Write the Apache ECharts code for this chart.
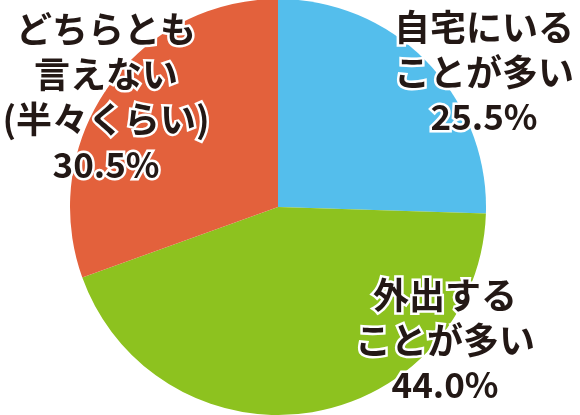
<!DOCTYPE html>
<html>
<head>
<meta charset="utf-8">
<script src="https://cdn.jsdelivr.net/npm/echarts@6/dist/echarts.min.js"></script>
<style>html,body{margin:0;padding:0;background:#fff;}#c{width:580px;height:415px;}</style>
</head>
<body>
<div id="c"></div>
<script>
var categories = ['自宅にいる\nことが多い', '外出する\nことが多い', 'どちらとも\n言えない\n(半々くらい)'];
var values = [25.5, 44.0, 30.5];
var colors = ['#54BEEC', '#8DC21F', '#E3613C'];
var labelPos = [[484, 72], [445, 340], [106, 97]];

var chart = echarts.init(document.getElementById('c'));
chart.setOption({
  animation: false,
  series: [{
    type: 'pie',
    center: [278, 207],
    radius: 208,
    startAngle: 90,
    clockwise: true,
    data: categories.map(function (c, i) {
      return { name: c, value: values[i], itemStyle: { color: colors[i] } };
    }),
    itemStyle: { borderWidth: 0 },
    label: {
      show: true,
      position: 'inside',
      formatter: function (p) {
        return p.name.split('\n').map(function (s) { return '{a|' + s + '}'; }).join('\n') +
          '\n{b|' + p.value.toFixed(1) + '%}';
      },
      color: '#231815',
      textBorderColor: '#ffffff',
      textBorderWidth: 5,
      align: 'center',
      rich: {
        a: {
          fontFamily: '"Noto Sans CJK JP", sans-serif',
          fontSize: 36, fontWeight: 'bold', lineHeight: 45,
          color: '#231815', textBorderColor: '#ffffff', textBorderWidth: 5
        },
        b: {
          fontFamily: '"Noto Sans CJK JP", sans-serif',
          fontSize: 35, fontWeight: 'bold', lineHeight: 45,
          color: '#231815', textBorderColor: '#ffffff', textBorderWidth: 5
        }
      }
    },
    labelLine: { show: false },
    labelLayout: function (params) {
      var p = labelPos[params.dataIndex];
      return { x: p[0], y: p[1], align: 'center', verticalAlign: 'middle' };
    },
    emphasis: { disabled: true }
  }]
});
</script>
</body>
</html>
